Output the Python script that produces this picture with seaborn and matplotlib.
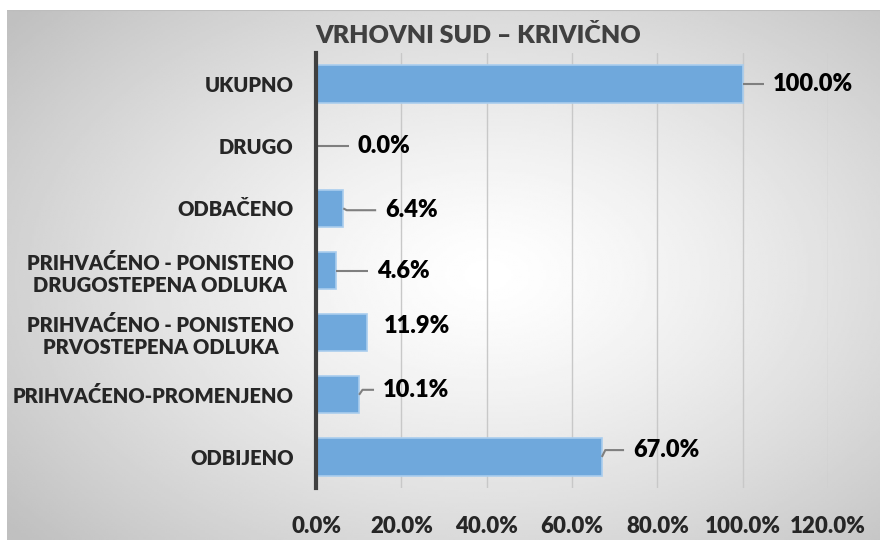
"""Vrhovni sud - krivicno: horizontal bar chart"""

import numpy as np
import pandas as pd
import matplotlib.pyplot as plt
import seaborn as sns

# categories top to bottom, percentages
categories = ['UKUPNO', 'DRUGO', 'ODBAČENO',
              'PRIHVAĆENO - PONISTENO\nDRUGOSTEPENA ODLUKA',
              'PRIHVAĆENO - PONISTENO\nPRVOSTEPENA ODLUKA',
              'PRIHVAĆENO-PROMENJENO', 'ODBIJENO']
values = [100.0, 0.0, 6.4, 4.6, 11.9, 10.1, 67.0]
x_ticks = [0, 20, 40, 60, 80, 100, 120]
x_tick_labels = ['0.0%', '20.0%', '40.0%', '60.0%', '80.0%', '100.0%', '120.0%']
title = 'VRHOVNI SUD – KRIVIČNO'

# where each value label sits relative to its bar end (x in %, y in rows)
label_dx = [7.0, 9.8, 9.8, 9.6, 4.0, 5.6, 7.3]
label_dy = [0.0, 0.0, 0.03, 0.0, -0.10, -0.08, -0.11]

df = pd.DataFrame({'kategorija': categories, 'procenat': values})

sns.set_style('white')
plt.rcParams['font.family'] = ['Lato', 'DejaVu Sans']
plt.rcParams['font.weight'] = 'heavy'
W = 'heavy'

fig = plt.figure(figsize=(8.8, 5.4), dpi=100)
fig.patch.set_facecolor('white')

# grey radial background behind the chart
bg = fig.add_axes([7 / 880, 0, 1 - 7 / 880, 1 - 10 / 540], zorder=-1)
gx, gy = np.meshgrid(np.linspace(0, 1, 400), np.linspace(0, 1, 250))
r = np.sqrt(((gx - 0.55) / 0.75) ** 2 + ((gy - 0.5) / 0.8) ** 2)
shade = 1.0 - 0.25 * np.clip(r / 0.95, 0, 1) ** 1.3
bg.imshow(shade, cmap='gray', vmin=0, vmax=1, aspect='auto', extent=(0, 1, 0, 1))
bg.plot([0, 1], [1, 1], color='#bdbdbd', lw=1.5)
bg.set_xlim(0, 1)
bg.set_ylim(0, 1)
bg.axis('off')

ax = fig.add_axes([316 / 880, 1 - 488 / 540, (828 - 316) / 880, (488 - 53) / 540])
ax.set_facecolor('none')

sns.barplot(data=df, x='procenat', y='kategorija', orient='h', ax=ax,
            color='#6FA8DC', saturation=1, width=0.6,
            edgecolor='#A9CDEE', linewidth=1.2, zorder=3)

ax.set_xlim(0, 120)
ax.set_ylim(len(categories) - 0.5, -0.5)
ax.set_xticks(x_ticks)
ax.set_xticklabels(x_tick_labels, fontsize=16, fontweight=W)
ax.grid(axis='x', color='#c8c8c8', lw=1, zorder=0)
ax.set_axisbelow(True)
ax.tick_params(axis='x', length=0, pad=20)
ax.tick_params(axis='y', length=0, pad=16)
for lab in ax.get_yticklabels():
    lab.set_fontsize(14.5)
    lab.set_fontweight(W)
    lab.set_multialignment('center')
ax.set_xlabel('')
ax.set_ylabel('')
for side in ['top', 'right', 'bottom']:
    ax.spines[side].set_visible(False)
ax.spines['left'].set_color('#404040')
ax.spines['left'].set_linewidth(3)
ax.spines['left'].set_zorder(5)

# value labels with leader lines
for i, v in enumerate(values):
    tx = v + label_dx[i]
    ty = i + label_dy[i]
    if label_dx[i] > 5:
        ax.plot([v, v + 0.8, tx - 2.1], [i, ty, ty], color='#7f7f7f', lw=1.5,
                zorder=4, clip_on=False, solid_capstyle='butt')
    ax.text(tx, ty, f'{v:.1f}%', fontsize=17, fontweight=W,
            color='black', ha='left', va='center', zorder=6)

fig.text(0.543, 0.935, title, ha='center', va='center', fontsize=18,
         fontweight=W, color='#404040')

fig.savefig('out.png', dpi=100)
